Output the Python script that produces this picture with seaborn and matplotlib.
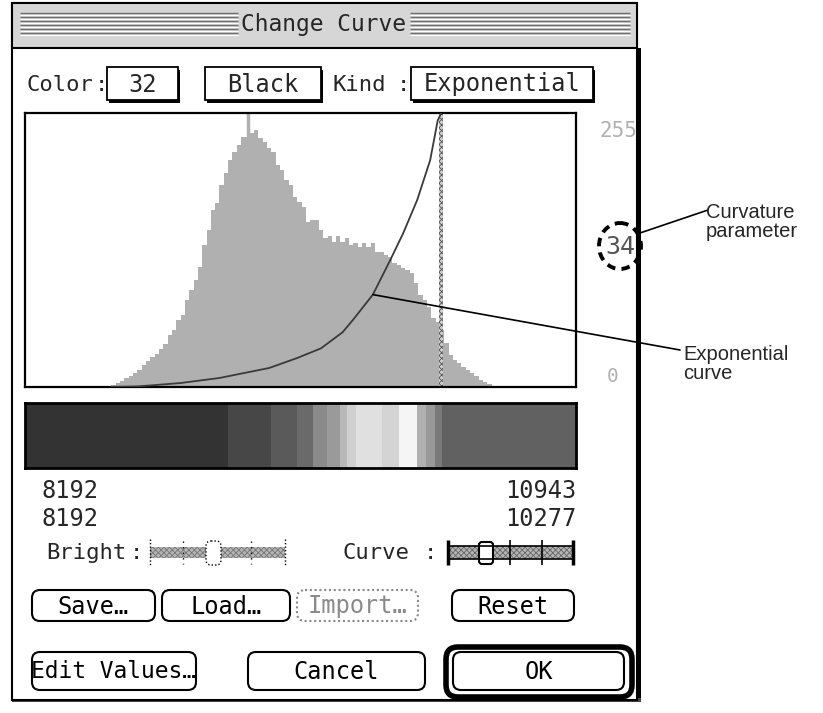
import numpy as np
import pandas as pd
import matplotlib
matplotlib.use("Agg")
import matplotlib.pyplot as plt
from matplotlib.patches import Rectangle, FancyBboxPatch, Ellipse
import seaborn as sns

hist_start = 38      # first grey level with pixels
hist_step = 2        # grey levels per bin
hist_counts = [1, 2, 4, 6, 9, 11, 14, 17, 22, 26, 30, 33, 38, 43, 52, 57, 67, 72, 87, 97,
               107, 120, 142, 157, 177, 184, 202, 214, 227, 235, 242, 250, 250, 254, 257, 249, 245, 239, 235, 222,
               217, 207, 202, 190, 185, 180, 165, 167, 167, 157, 149, 151, 145, 151, 145, 149, 142, 144, 140, 144,
               140, 144, 135, 135, 132, 130, 124, 122, 119, 117, 114, 104, 92, 87, 80, 69, 65, 57, 44, 32,
               27, 24, 20, 17, 14, 11, 7, 5, 3, 1]
spike_level = [103]
spike_count = [274]
hist_max = 274

curve_in = [40, 52, 72, 90, 113, 126, 137, 147, 152, 161, 169, 175, 181.5, 187.5, 191, 192.6]
curve_out = [0, 0.5, 3.7, 8.4, 17.7, 27, 36, 51, 63, 86, 118, 143, 174, 211, 248, 255]
white_point = 192.6

band_edges = [0, 94, 113.7, 126, 133.5, 139.8, 145.6, 149.2, 153.4, 165, 173.2, 181.4, 185.6, 189.8, 193, 255]
band_grey = [51, 71, 90, 106, 138, 154, 184, 208, 224, 212, 245, 176, 153, 122, 97]

color_index = "32"
color_name = "Black"
curve_kind = "Exponential"
curvature = "34"
low_values = ["8192", "8192"]
high_values = ["10943", "10277"]

sns.set_theme(style="white")
plt.rcParams["font.family"] = ["DejaVu Sans Mono", "DejaVu Sans"]
plt.rcParams["hatch.linewidth"] = 0.6

W, H = 823, 713
fig = plt.figure(figsize=(W / 100, H / 100), dpi=100)
fig.patch.set_facecolor("white")


def px_axes(x0, y0, x1, y1):
    return fig.add_axes([x0 / W, 1 - y1 / H, (x1 - x0) / W, (y1 - y0) / H])


# background axes in pixel units for the dialog chrome
ui = fig.add_axes([0, 0, 1, 1])
ui.set_xlim(0, W)
ui.set_ylim(H, 0)
ui.axis("off")

FS = 17
LFS = 16   # field labels are set a little tighter


def label(x, y, word, colon_x):
    ui.text(x, y, word, ha="left", va="center", fontsize=LFS)
    ui.text(colon_x, y, ":", ha="center", va="center", fontsize=LFS)


# window
ui.add_patch(Rectangle((636, 48), 5, 654, fc="black", lw=0))
ui.add_patch(Rectangle((12, 698), 629, 4, fc="#444444", lw=0))
ui.add_patch(Rectangle((12, 3), 625, 697, fc="white", ec="black", lw=1.5))
ui.add_patch(Rectangle((12, 3), 625, 45, fc="#d6d6d6", ec="black", lw=1.5))
for yy in np.arange(13, 37, 4):
    ui.hlines([yy, yy], [20, 410], [238, 630], color="#6e6e6e", lw=1)
    ui.hlines([yy + 1.6, yy + 1.6], [20, 410], [238, 630], color="white", lw=0.8)
ui.text(324, 25, "Change Curve", ha="center", va="center", fontsize=16.5)


def popup(x0, x1, y0, y1, text):
    ui.add_patch(Rectangle((x0 + 2.5, y0 + 2.5), x1 - x0, y1 - y0, fc="black", lw=0))
    ui.add_patch(Rectangle((x0, y0), x1 - x0, y1 - y0, fc="white", ec="black", lw=1.3))
    ui.text((x0 + x1) / 2, (y0 + y1) / 2 + 1, text, ha="center", va="center", fontsize=FS)


label(27, 85, "Color", 101)
popup(107, 178, 67, 100, color_index)
popup(205, 321, 67, 100, color_name)
label(333, 85, "Kind", 403)
popup(411, 593, 67, 100, curve_kind)

# histogram + transfer curve
hist_df = pd.DataFrame({
    "level": np.arange(len(hist_counts)) * hist_step + hist_start + hist_step / 2,
    "count": hist_counts,
})
ax_h = px_axes(25, 113, 576, 387)
sns.histplot(data=hist_df, x="level", weights="count", binwidth=hist_step,
             binrange=(hist_start, hist_start + hist_step * len(hist_counts)),
             element="step", fill=True, color="#b0b0b0", alpha=1, linewidth=0, ax=ax_h)
ax_h.vlines(spike_level, 0, spike_count, color="#b0b0b0", lw=2.5)
ax_h.axvspan(white_point - 0.9, white_point + 0.9, facecolor="#d0d0d0", edgecolor="#555555",
             hatch="xxxxxx", lw=0)
ax_h.set_xlim(0, 255)
ax_h.set_ylim(0, hist_max)
ax_h.set_xticks([])
ax_h.set_yticks([])
ax_h.set_xlabel("")
ax_h.set_ylabel("")
ax_h.set_facecolor("white")
for s in ax_h.spines.values():
    s.set_visible(True)
    s.set_color("black")
    s.set_linewidth(1.6)

ax_c = ax_h.twinx()
sns.lineplot(x=curve_in, y=curve_out, ax=ax_c, color="#3a3a3a", lw=1.3)
ax_c.set_ylim(0, 255)
ax_c.set_yticks([])
ax_c.set_ylabel("")
for s in ax_c.spines.values():
    s.set_visible(False)

ui.text(637, 131, "255", ha="right", va="center", fontsize=15, color="#b0b0b0")
ui.text(613, 377, "0", ha="center", va="center", fontsize=14, color="#b0b0b0")
ui.add_patch(Ellipse((620, 246), 42, 46, fill=False, ec="black", lw=2.8, ls=(0, (2.2, 1.6))))
ui.text(620, 247, curvature, ha="center", va="center", fontsize=18, color="#555555")

# grey-level bar
ax_g = px_axes(25, 403, 576, 468)
ax_g.bar(band_edges[:-1], 1, width=np.diff(band_edges), align="edge",
         color=[str(g / 255) for g in band_grey], lw=0)
ax_g.set_xlim(0, 255)
ax_g.set_ylim(0, 1)
ax_g.set_xticks([])
ax_g.set_yticks([])
for s in ax_g.spines.values():
    s.set_color("black")
    s.set_linewidth(2)

for i, (lo, hi) in enumerate(zip(low_values, high_values)):
    ui.text(42, 491 + 28 * i, lo, ha="left", va="center", fontsize=FS)
    ui.text(576, 491 + 28 * i, hi, ha="right", va="center", fontsize=FS)

# sliders
label(46, 553, "Bright", 136)
ui.add_patch(Rectangle((150, 547), 135, 11, fc="#b5b5b5", ec="#777777", hatch="xxxxxx", lw=0))
ui.vlines([150, 285], 539, 566, color="black", lw=1, ls=(0, (1, 1.5)))
ui.vlines([183, 251], 541, 564, color="black", lw=1, ls=(0, (1, 3)))
ui.add_patch(FancyBboxPatch((206, 541), 15, 24, boxstyle="round,pad=0,rounding_size=5",
                            fc="white", ec="black", lw=1, ls=(0, (1, 1.5))))

label(343, 553, "Curve", 430)
ui.add_patch(Rectangle((448, 546), 125, 13, fc="#b5b5b5", ec="#666666", hatch="xxxxxx", lw=0))
ui.hlines([546, 559], 448, 573, color="black", lw=1.2)
ui.vlines([448, 573], 540, 565, color="black", lw=2.5)
ui.vlines([510, 542], 540, 565, color="black", lw=1.2)
ui.add_patch(FancyBboxPatch((479, 542), 14, 22, boxstyle="round,pad=0,rounding_size=3",
                            fc="white", ec="black", lw=1.5))


def button(x0, x1, y0, y1, text, dotted=False, r=8, fs=FS):
    col = "#8a8a8a" if dotted else "black"
    ls = (0, (1, 1.3)) if dotted else "-"
    ui.add_patch(FancyBboxPatch((x0, y0), x1 - x0, y1 - y0,
                                boxstyle=f"round,pad=0,rounding_size={r}",
                                fc="white", ec=col, lw=1.5, ls=ls))
    ui.text((x0 + x1) / 2, (y0 + y1) / 2 + 1, text, ha="center", va="center",
            fontsize=fs, color=col)


button(32, 155, 590, 621, "Save…")
button(162, 290, 590, 621, "Load…")
button(297, 418, 590, 621, "Import…", dotted=True)
button(452, 574, 590, 621, "Reset")
button(32, 196, 652, 690, "Edit Values…", fs=16.5)
button(248, 425, 652, 690, "Cancel")
ui.add_patch(FancyBboxPatch((446, 647), 186, 50, boxstyle="round,pad=0,rounding_size=12",
                            fc="white", ec="black", lw=4))
button(453, 624, 652, 690, "OK")

# callouts on top of everything
ov = fig.add_axes([0, 0, 1, 1])
ov.set_xlim(0, W)
ov.set_ylim(H, 0)
ov.axis("off")
ov.patch.set_alpha(0)
ov.annotate("", xy=(curve_in[9], curve_out[9]), xycoords=ax_c.transData,
            xytext=(680, 350), textcoords=ov.transData,
            arrowprops=dict(arrowstyle="-", lw=1.2, color="black", shrinkA=0, shrinkB=0),
            annotation_clip=False)
ov.plot([640, 708], [233, 210], color="black", lw=1.2)
ov.text(706, 222, "Curvature\nparameter", ha="left", va="center", fontsize=14.5,
        family="Liberation Sans", linespacing=1.0)
ov.text(683, 364, "Exponential\ncurve", ha="left", va="center", fontsize=14.5,
        family="Liberation Sans", linespacing=1.0)

fig.savefig("out.png", dpi=100)
